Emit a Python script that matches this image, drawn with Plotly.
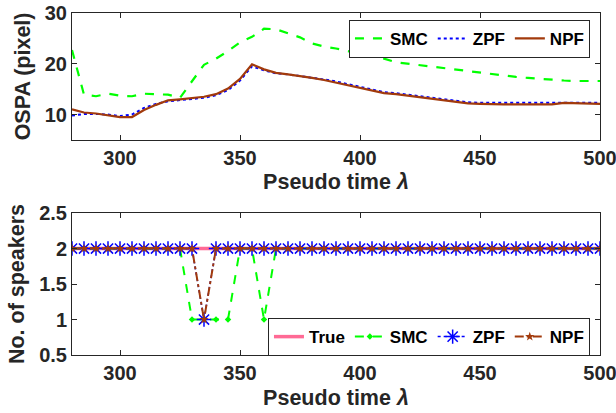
import plotly.graph_objects as go
from plotly.subplots import make_subplots

time = list(range(280, 505, 5))

ospa_smc = [22.7, 13.9, 13.6, 14.1, 13.7, 13.6, 14.1, 14.0, 13.9, 13.3,
            16.5, 19.8, 21.0, 22.5, 24.2, 25.3, 26.9, 26.8, 26.0, 25.2,
            24.0, 23.4, 23.0, 22.5, 22.0, 21.5, 21.0, 20.3, 20.0, 19.7,
            19.4, 19.1, 18.8, 18.5, 18.2, 17.9, 17.6, 17.4, 17.2, 17.0,
            16.8, 16.7, 16.6, 16.6, 16.6]
ospa_zpf = [9.8, 10.1, 10.1, 10.0, 9.7, 10.0, 11.3, 12.1, 12.6, 12.8,
            13.0, 13.3, 13.8, 14.8, 16.7, 19.5, 18.7, 18.1, 17.9, 17.6,
            17.3, 16.9, 16.5, 16.0, 15.5, 14.9, 14.4, 14.2, 13.9, 13.6,
            13.3, 13.0, 12.7, 12.4, 12.3, 12.3, 12.3, 12.3, 12.3, 12.3,
            12.3, 12.3, 12.3, 12.3, 12.3]
ospa_npf = [11.0, 10.4, 10.2, 9.9, 9.5, 9.5, 10.9, 11.9, 12.8, 13.0,
            13.2, 13.5, 14.0, 15.1, 17.0, 19.9, 18.9, 18.2, 17.9, 17.6,
            17.2, 16.8, 16.3, 15.8, 15.3, 14.7, 14.2, 14.0, 13.7, 13.4,
            13.2, 12.9, 12.6, 12.2, 12.1, 12.0, 12.0, 12.0, 12.0, 12.0,
            12.0, 12.3, 12.2, 12.2, 12.1]

n_true = [2] * len(time)
n_smc = [2] * len(time)
for t in (330, 335, 340, 345, 360):
    n_smc[time.index(t)] = 1
n_zpf = [2] * len(time)
n_zpf[time.index(335)] = 1
n_npf = list(n_zpf)

GREEN = "#00FF00"
BLUE = "#0000FF"
BROWN = "#A23A0C"
PINK = "#FF6A95"
AX = "#262626"
FONT = "Liberation Sans"

fig = make_subplots(rows=2, cols=1)

fig.add_trace(go.Scatter(x=time, y=ospa_smc, name="SMC", mode="lines",
                         line=dict(color=GREEN, width=2.2, dash="dash"),
                         legend="legend"), row=1, col=1)
fig.add_trace(go.Scatter(x=time, y=ospa_zpf, name="ZPF", mode="lines",
                         line=dict(color=BLUE, width=2, dash="dot"),
                         legend="legend"), row=1, col=1)
fig.add_trace(go.Scatter(x=time, y=ospa_npf, name="NPF", mode="lines",
                         line=dict(color=BROWN, width=2.2),
                         legend="legend"), row=1, col=1)

fig.add_trace(go.Scatter(x=time, y=n_true, name="True", mode="lines",
                         line=dict(color=PINK, width=3.5),
                         legend="legend2"), row=2, col=1)
fig.add_trace(go.Scatter(x=time, y=n_smc, name="SMC", mode="lines+markers",
                         line=dict(color=GREEN, width=2, dash="dash"),
                         marker=dict(symbol="diamond", size=5, color=GREEN),
                         legend="legend2"), row=2, col=1)
fig.add_trace(go.Scatter(x=time, y=n_zpf, name="ZPF", mode="lines+markers",
                         line=dict(color=BLUE, width=1.5, dash="dot"),
                         marker=dict(symbol="asterisk-open", size=12,
                                     line=dict(color=BLUE, width=1.5)),
                         legend="legend2"), row=2, col=1)
fig.add_trace(go.Scatter(x=time, y=n_npf, name="NPF", mode="lines+markers",
                         line=dict(color=BROWN, width=2, dash="dashdot"),
                         marker=dict(symbol="star", size=7, color=BROWN),
                         legend="legend2"), row=2, col=1)

axis_common = dict(showline=True, linecolor=AX, linewidth=1, mirror="ticks",
                   ticks="inside", ticklen=5, tickcolor=AX, showgrid=False,
                   zeroline=False, automargin=False,
                   tickfont=dict(family=FONT, size=20, color=AX, weight="bold"))
xticks = [300, 350, 400, 450, 500]
title_x = dict(text="Pseudo time <i>λ</i>",
               font=dict(family=FONT, size=21.5, color=AX, weight="bold"),
               standoff=6)

fig.update_xaxes(range=[280, 500], tickvals=xticks, title=title_x,
                 ticklabeloverflow="allow", **axis_common)
fig.update_yaxes(**axis_common)
fig.update_yaxes(range=[5, 30], tickvals=[10, 20, 30], row=1, col=1,
                 title=dict(text="OSPA (pixel)",
                            font=dict(family=FONT, size=21.5, color=AX, weight="bold"),
                            standoff=8))
fig.update_yaxes(range=[0.5, 2.5], tickvals=[0.5, 1, 1.5, 2, 2.5],
                 ticktext=["0.5", "1", "1.5", "2", "2.5"], row=2, col=1,
                 title=dict(text="No. of speakers",
                            font=dict(family=FONT, size=21.5, color=AX, weight="bold"),
                            standoff=8))

fig.update_layout(
    width=616, height=413,
    margin=dict(l=72, r=16, t=13, b=58),
    paper_bgcolor="white", plot_bgcolor="white",
    xaxis=dict(domain=[0, 1]), yaxis=dict(domain=[0.629, 1]),
    xaxis2=dict(domain=[0, 1]), yaxis2=dict(domain=[0, 0.415]),
    legend=dict(orientation="h", x=0.981, xanchor="right", y=0.98, yanchor="top",
                bordercolor=AX, borderwidth=1, bgcolor="white",
                font=dict(family=FONT, size=17, color="black", weight="bold"),
                tracegroupgap=0, itemwidth=30),
    legend2=dict(orientation="h", x=0.981, xanchor="right", y=0.108, yanchor="top",
                 bordercolor=AX, borderwidth=1, bgcolor="white",
                 font=dict(family=FONT, size=17, color="black", weight="bold"),
                 tracegroupgap=0, itemwidth=30),
    showlegend=True,
)

fig.write_html("out.html")
